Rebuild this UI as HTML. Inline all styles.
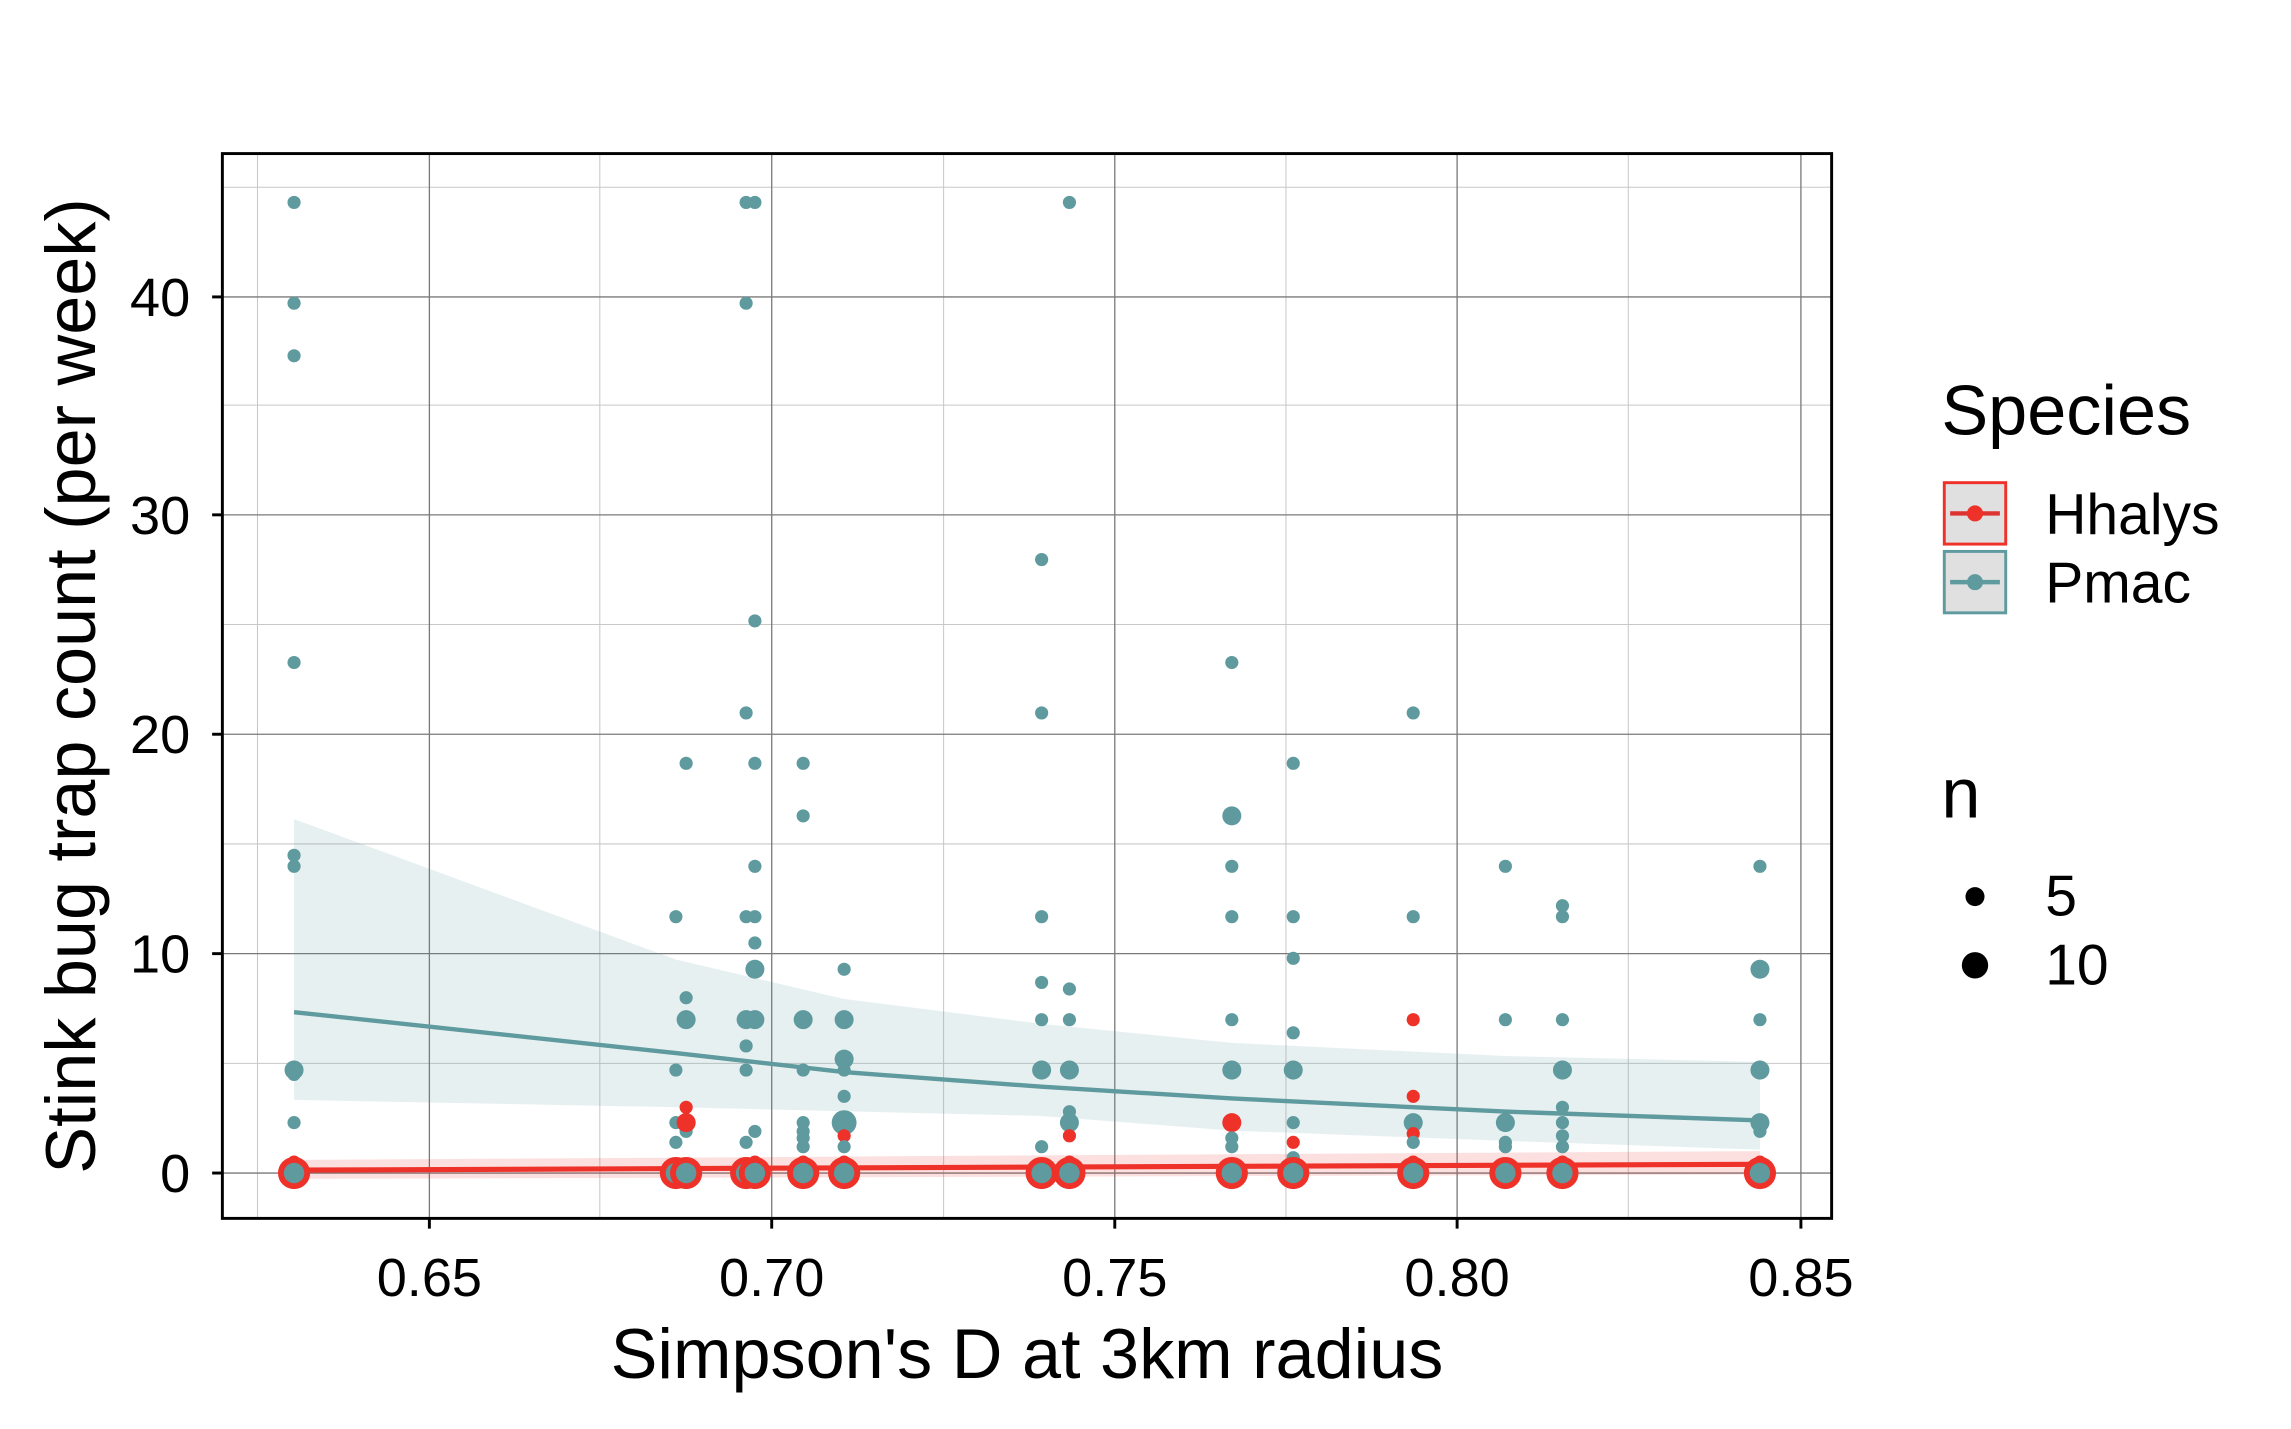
<!DOCTYPE html>
<html><head><meta charset="utf-8"><style>html,body{margin:0;padding:0;background:#fff}svg{display:block}</style></head>
<body>
<svg id="s" width="2291" height="1429" viewBox="0 0 1566 977" preserveAspectRatio="none" xmlns="http://www.w3.org/2000/svg" font-family="Liberation Sans, Arial, sans-serif">
<rect width="1566" height="977" fill="#fff"/>
<g stroke="#c8c8c8" stroke-width="0.7">
<line x1="176" y1="105" x2="176" y2="833"/><line x1="410" y1="105" x2="410" y2="833"/><line x1="645" y1="105" x2="645" y2="833"/><line x1="879" y1="105" x2="879" y2="833"/><line x1="1113" y1="105" x2="1113" y2="833"/>
<line x1="152" y1="727" x2="1252" y2="727"/><line x1="152" y1="577" x2="1252" y2="577"/><line x1="152" y1="427" x2="1252" y2="427"/><line x1="152" y1="277" x2="1252" y2="277"/><line x1="152" y1="128" x2="1252" y2="128"/>
</g>
<g stroke="#7a7a7a" stroke-width="0.9">
<line x1="293.5" y1="105" x2="293.5" y2="833"/><line x1="527.5" y1="105" x2="527.5" y2="833"/><line x1="762" y1="105" x2="762" y2="833"/><line x1="996" y1="105" x2="996" y2="833"/><line x1="1231" y1="105" x2="1231" y2="833"/>
<line x1="152" y1="802" x2="1252" y2="802"/><line x1="152" y1="652" x2="1252" y2="652"/><line x1="152" y1="502" x2="1252" y2="502"/><line x1="152" y1="352" x2="1252" y2="352"/><line x1="152" y1="203" x2="1252" y2="203"/>
</g>
<polygon points="201,560 462,656 577,683 712,700 842,713 1029,722 1203,726 1203,786 1029,780 842,773 712,763 462,757 201,752" fill="#5f9a9e" fill-opacity="0.15"/>
<polygon points="201,793 1203,787 1203,803 201,806" fill="#ee3129" fill-opacity="0.15"/>
<g id="pts"></g>
<polyline points="201,692 462,720 577,733 712,743 842,751 1029,760 1203,766" fill="none" stroke="#5f9a9e" stroke-width="3"/>
<line x1="201" y1="800" x2="1203" y2="796" stroke="#ee3129" stroke-width="3.5"/>
<g id="zero"></g>
<rect x="152" y="105" width="1100" height="728" fill="none" stroke="#000" stroke-width="2"/>
<g stroke="#000" stroke-width="2">
<line x1="145" y1="802" x2="152" y2="802"/><line x1="145" y1="652" x2="152" y2="652"/><line x1="145" y1="502" x2="152" y2="502"/><line x1="145" y1="352" x2="152" y2="352"/><line x1="145" y1="203" x2="152" y2="203"/>
<line x1="293.5" y1="833" x2="293.5" y2="840"/><line x1="527.5" y1="833" x2="527.5" y2="840"/><line x1="762" y1="833" x2="762" y2="840"/><line x1="996" y1="833" x2="996" y2="840"/><line x1="1231" y1="833" x2="1231" y2="840"/>
</g>
<g font-size="37" text-anchor="end" fill="#000">
<text x="130" y="815">0</text><text x="130" y="665">10</text><text x="130" y="515">20</text><text x="130" y="365">30</text><text x="130" y="216">40</text>
</g>
<g font-size="37" text-anchor="middle" fill="#000">
<text x="293.5" y="886">0.65</text><text x="527.5" y="886">0.70</text><text x="762" y="886">0.75</text><text x="996" y="886">0.80</text><text x="1231" y="886">0.85</text>
</g>
<text x="702" y="942" font-size="48" text-anchor="middle">Simpson's D at 3km radius</text>
<text transform="translate(65,469) rotate(-90)" font-size="48" text-anchor="middle">Stink bug trap count (per week)</text>
<text x="1327" y="297" font-size="48">Species</text>
<rect x="1329" y="330" width="42" height="42" fill="#e0e0e0" stroke="#ee3129" stroke-width="2"/>
<line x1="1333" y1="351" x2="1367" y2="351" stroke="#d33" stroke-width="3"/><circle cx="1350" cy="351" r="5.5" fill="#ee3129"/>
<rect x="1329" y="377" width="42" height="42" fill="#e0e0e0" stroke="#5f9a9e" stroke-width="2"/>
<line x1="1333" y1="398" x2="1367" y2="398" stroke="#5f9a9e" stroke-width="3"/><circle cx="1350" cy="398" r="5.5" fill="#5f9a9e"/>
<text x="1398" y="365" font-size="39">Hhalys</text>
<text x="1398" y="412" font-size="39">Pmac</text>
<text x="1327" y="559" font-size="48">n</text>
<circle cx="1350" cy="613" r="6.5" fill="#000"/><circle cx="1350" cy="660" r="9" fill="#000"/>
<text x="1398" y="626" font-size="39">5</text><text x="1398" y="673" font-size="39">10</text>
</svg>
<script>
var T="#5f9a9e",R="#ee3129";
function Y(v){return 802-v*14.98;}
var cols={201:[[44.3],[39.7],[37.3],[23.3],[14.5],[14],[4.7,2],[4.5],[2.3],[0.5,1,R]],
462:[[11.7],[4.7],[2.3],[1.4]],
469:[[18.7],[8],[7,2],[2.3,2],[1.9],[3,1,R],[2.3,2,R]],
510:[[44.3],[39.7],[21],[11.7],[7,2],[5.8],[4.7],[1.4]],
516:[[44.3],[25.2],[18.7],[14],[11.7],[10.5],[9.3,2],[7,2],[1.9],[0.5,1,R]],
549:[[18.7],[16.3],[7,2],[4.7],[2.3],[1.9],[1.6],[1.2],[0.5,1,R]],
577:[[9.3],[7,2],[5.2,2],[4.7],[3.5],[2.3,3],[1.7,1,R],[1.2],[0.5,1,R]],
712:[[28],[21],[11.7],[8.7],[7],[4.7,2],[1.2]],
731:[[44.3],[8.4],[7],[4.7,2],[2.8],[2.3,2],[1.7,1,R],[0.5,1,R]],
842:[[23.3],[16.3,2],[14],[11.7],[7],[4.7,2],[2.3,2,R],[1.6],[1.2]],
884:[[18.7],[11.7],[9.8],[6.4],[4.7,2],[2.3],[1.4,1,R],[0.7],[0.3]],
966:[[21],[11.7],[7,1,R],[3.5,1,R],[2.3,2],[1.8,1,R],[1.4],[0.5,1,R]],
1029:[[14],[7],[2.3,2],[1.4],[1.2]],
1068:[[12.2],[11.7],[7],[4.7,2],[3],[2.3],[1.7],[1.2],[0.5,1,R]],
1203:[[14],[9.3,2],[7],[4.7,2],[2.3,2],[1.9],[0.5,1,R]]};
var rs=[0,4.5,6.5,8.5],h="",z="";
for(var x in cols){cols[x].forEach(function(p){h+='<circle cx="'+x+'" cy="'+Y(p[0])+'" r="'+rs[p[1]||1]+'" fill="'+(p[2]||T)+'"/>';});
z+='<circle cx="'+x+'" cy="802" r="11" fill="'+R+'"/><circle cx="'+x+'" cy="802" r="7" fill="'+T+'"/>';}
document.getElementById("pts").innerHTML=h;document.getElementById("zero").innerHTML=z;
</script>
</body></html>
